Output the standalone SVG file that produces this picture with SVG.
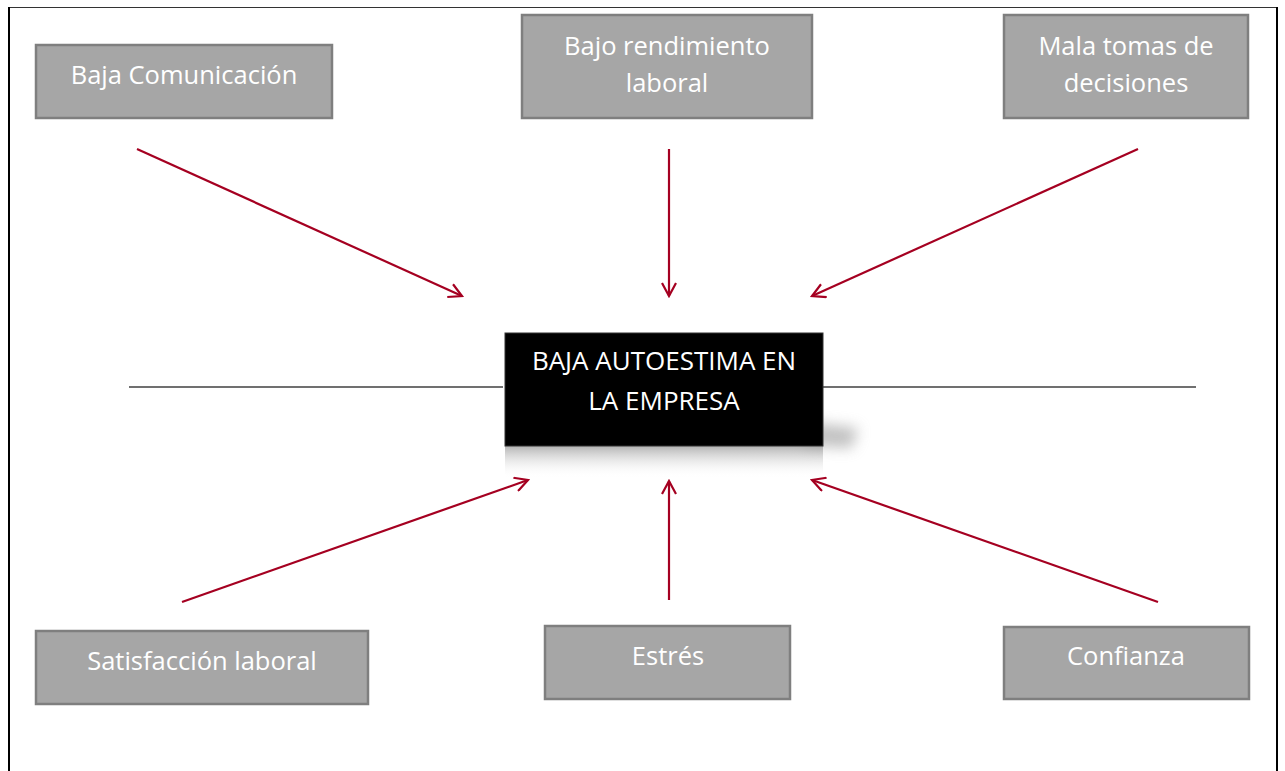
<svg xmlns="http://www.w3.org/2000/svg" width="1285" height="771" viewBox="0 0 1285 771">
<style>
.box{fill:#a6a6a6;stroke:#7f7f7f;stroke-width:2.5}
.lbl{font-family:"Open Sans","Noto Sans",sans-serif;font-size:25.5px;fill:#ffffff;text-anchor:middle}
.big{font-size:26px}
.arr{stroke:#a50021;stroke-width:2.2;fill:none;marker-end:url(#ah)}
.axis{stroke:#404040;stroke-width:1.5}
</style>
<defs>
<marker id="ah" viewBox="0 0 16 16" refX="14" refY="8" markerWidth="16" markerHeight="16" markerUnits="userSpaceOnUse" orient="auto">
<path d="M1,1 L14,8 L1,15" fill="none" stroke="#a50021" stroke-width="2.2"/>
</marker>
<linearGradient id="refl" x1="0" y1="0" x2="0" y2="1">
<stop offset="0" stop-color="#9a9a9a" stop-opacity="0.75"/>
<stop offset="1" stop-color="#ffffff" stop-opacity="0"/>
</linearGradient>
<filter id="blur" x="-30%" y="-80%" width="160%" height="260%">
<feGaussianBlur stdDeviation="7"/>
</filter>
</defs>
<g id="page">
<line x1="8" y1="7.5" x2="1278" y2="7.5" stroke="#333" stroke-width="1"/>
<line x1="9" y1="7" x2="9" y2="771" stroke="#000" stroke-width="2"/>
<line x1="1277" y1="7" x2="1277" y2="771" stroke="#000" stroke-width="2"/>
</g>
<g id="axis">
<line class="axis" x1="129" y1="387" x2="503" y2="387"/>
<line class="axis" x1="823" y1="387" x2="1196" y2="387"/>
</g>
<g id="connectors">
<line class="arr" x1="137" y1="149" x2="462" y2="296"/>
<line class="arr" x1="669" y1="149" x2="669" y2="296"/>
<line class="arr" x1="1138" y1="149" x2="812" y2="296"/>
<line class="arr" x1="182" y1="602" x2="528" y2="480"/>
<line class="arr" x1="669" y1="600" x2="669" y2="481"/>
<line class="arr" x1="1158" y1="602" x2="812" y2="480"/>
</g>
<g id="center">
<path d="M805,422 L858,428 L852,448 L805,446 Z" fill="#999" filter="url(#blur)" opacity="0.6"/>
<rect x="505" y="446" width="318" height="32" fill="url(#refl)"/>
<rect x="505" y="333" width="318" height="113" fill="#000" stroke="#333" stroke-width="1"/>
<text class="lbl big" x="664" y="370">BAJA AUTOESTIMA EN</text>
<text class="lbl big" x="664" y="410">LA EMPRESA</text>
</g>
<g id="n1">
<rect class="box" x="36" y="45" width="296" height="73"/>
<text class="lbl" x="184" y="84">Baja Comunicación</text>
</g>
<g id="n2">
<rect class="box" x="522" y="15" width="290" height="103"/>
<text class="lbl" x="667" y="55">Bajo rendimiento</text>
<text class="lbl" x="667" y="92">laboral</text>
</g>
<g id="n3">
<rect class="box" x="1004" y="15" width="244" height="103"/>
<text class="lbl" x="1126" y="55">Mala tomas de</text>
<text class="lbl" x="1126" y="92">decisiones</text>
</g>
<g id="n4">
<rect class="box" x="36" y="631" width="332" height="73"/>
<text class="lbl" x="202" y="670">Satisfacción laboral</text>
</g>
<g id="n5">
<rect class="box" x="545" y="626" width="245" height="73"/>
<text class="lbl" x="668" y="665">Estrés</text>
</g>
<g id="n6">
<rect class="box" x="1004" y="627" width="245" height="72"/>
<text class="lbl" x="1126" y="665">Confianza</text>
</g>
</svg>
